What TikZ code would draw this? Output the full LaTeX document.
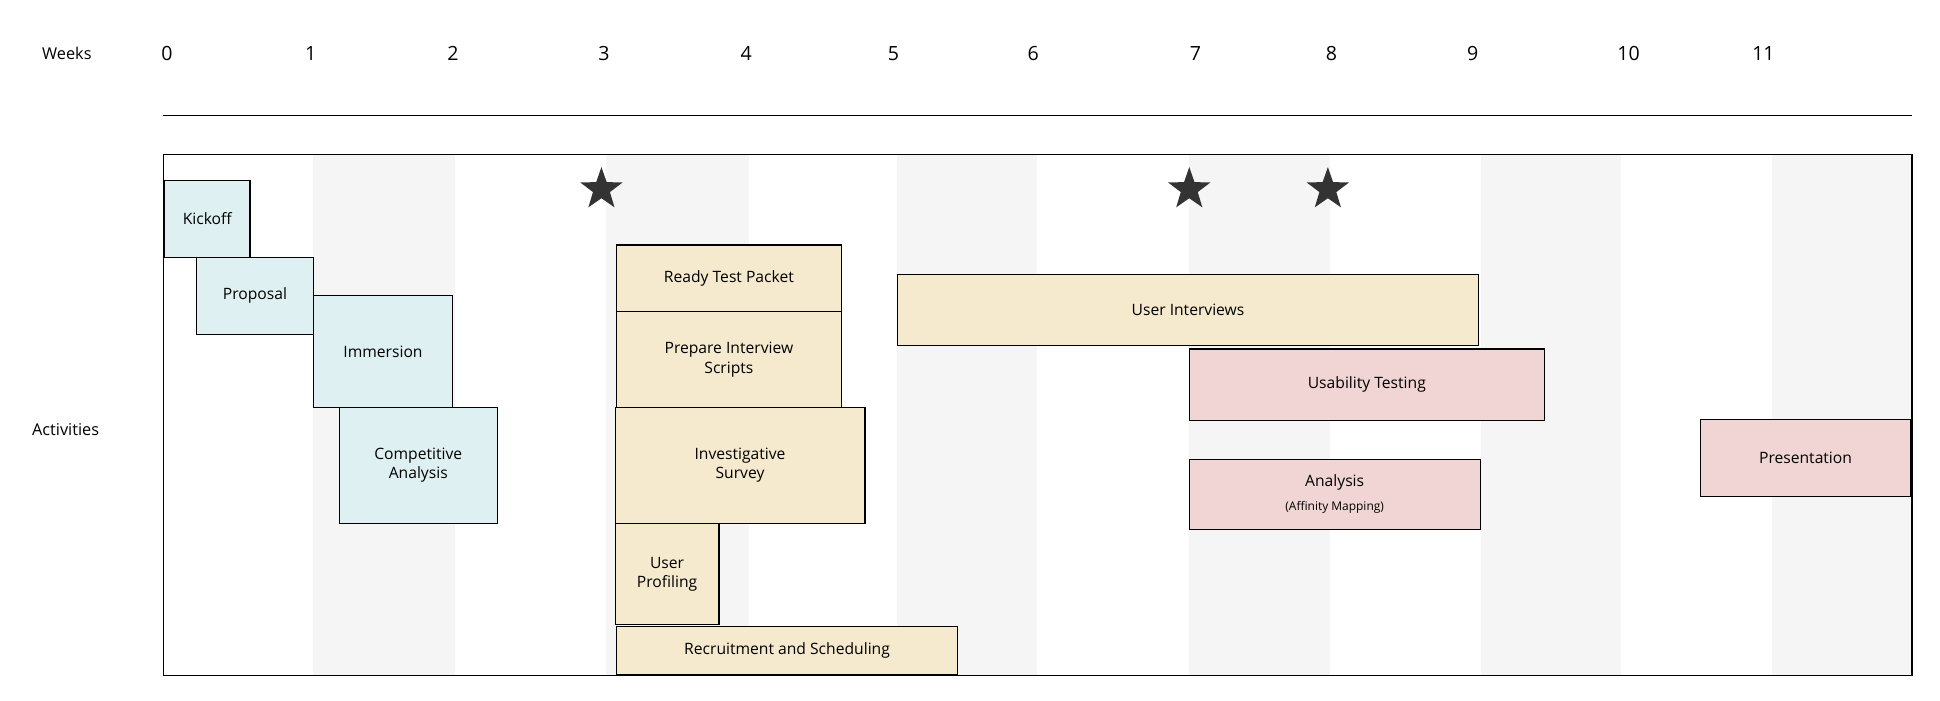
\documentclass[tikz,border=0pt]{standalone}
\usepackage{fontspec}
\setmainfont{Open Sans}
\usetikzlibrary{shapes.geometric}
\definecolor{bluef}{HTML}{DFF0F2}
\definecolor{yelf}{HTML}{F5EACD}
\definecolor{pinkf}{HTML}{F0D5D4}
\definecolor{stripe}{HTML}{F5F5F5}
\definecolor{starc}{HTML}{333333}
\tikzset{
  act/.style={draw=black, line width=0.5pt, align=center, font=\fontsize{7.2}{9}\selectfont, inner sep=0pt},
  wk/.style={font=\fontsize{9}{11}\selectfont},
  lab/.style={font=\fontsize{7.5}{9}\selectfont},
  starn/.style={star, star points=5, star point ratio=2.5, fill=starc, minimum size=0.72cm, inner sep=0pt},
}
\newcommand{\actbox}[7]{% name, x1,y1,x2,y2, color, text
  \node[act, fill=#6, minimum width={(#4-#2)*0.02cm}, minimum height={(#5-#3)*0.02cm}] (#1) at ({(#2+#4)/2*0.02},{-(#3+#5)/2*0.02}) {#7};}
\begin{document}
\begin{tikzpicture}
\useasboundingbox (0,0) rectangle (31.36,-11.32);
\fill[white] (0,0) rectangle (31.36,-11.32);
% stripes
\foreach \a/\b in {253/368,490/605,725/838,961/1075,1197/1310,1432/1545}
  \fill[stripe] ({\a*0.02},{-125*0.02}) rectangle ({\b*0.02},{-546*0.02});
\draw[line width=0.5pt] ({132*0.02},{-125*0.02}) rectangle ({1545*0.02},{-546*0.02});
\coordinate (la) at ({132*0.02},{-93*0.02});
\coordinate (lb) at ({1545*0.02},{-93*0.02});
\draw[line width=0.5pt] (la) -- (lb);
\node[lab] (weeks) at ({54*0.02},{-43*0.02}) {Weeks};
\node[lab] (activities) at ({53*0.02},{-347*0.02}) {Activities};
\foreach \n/\x in {0/135,1/251,2/366,3/488,4/603,5/722,6/835,7/966,8/1076,9/1190,10/1316,11/1425}
  \node[wk] (w\n) at ({\x*0.02},{-43*0.02}) {\n};
\node[starn] (s1) at ({486*0.02},{-153*0.02}) {};
\node[starn] (s2) at ({961*0.02},{-153*0.02}) {};
\node[starn] (s3) at ({1073*0.02},{-153*0.02}) {};
\actbox{kick}{133}{146}{202}{208}{bluef}{Kickoff}
\actbox{prop}{159}{208}{253}{270}{bluef}{Proposal}
\actbox{imm}{253}{239}{366}{329}{bluef}{Immersion}
\actbox{comp}{274}{329}{402}{423}{bluef}{Competitive\\Analysis}
\actbox{ready}{498}{198}{680}{252}{yelf}{Ready Test Packet}
\actbox{prep}{498}{252}{680}{329}{yelf}{Prepare Interview\\Scripts}
\actbox{surv}{497}{329}{699}{423}{yelf}{Investigative\\Survey}
\actbox{prof}{497}{423}{581}{505}{yelf}{User\\Profiling}
\actbox{recr}{498}{506}{774}{545}{yelf}{Recruitment and Scheduling}
\actbox{inter}{725}{222}{1195}{279}{yelf}{User Interviews}
\actbox{usab}{961}{282}{1248}{340}{pinkf}{Usability Testing}
\actbox{anal}{961}{371}{1196}{428}{pinkf}{Analysis\\[2pt]{\fontsize{5.5}{7}\selectfont (Affinity Mapping)}}
\actbox{pres}{1374}{339}{1544}{401}{pinkf}{Presentation}
\end{tikzpicture}
\end{document}
